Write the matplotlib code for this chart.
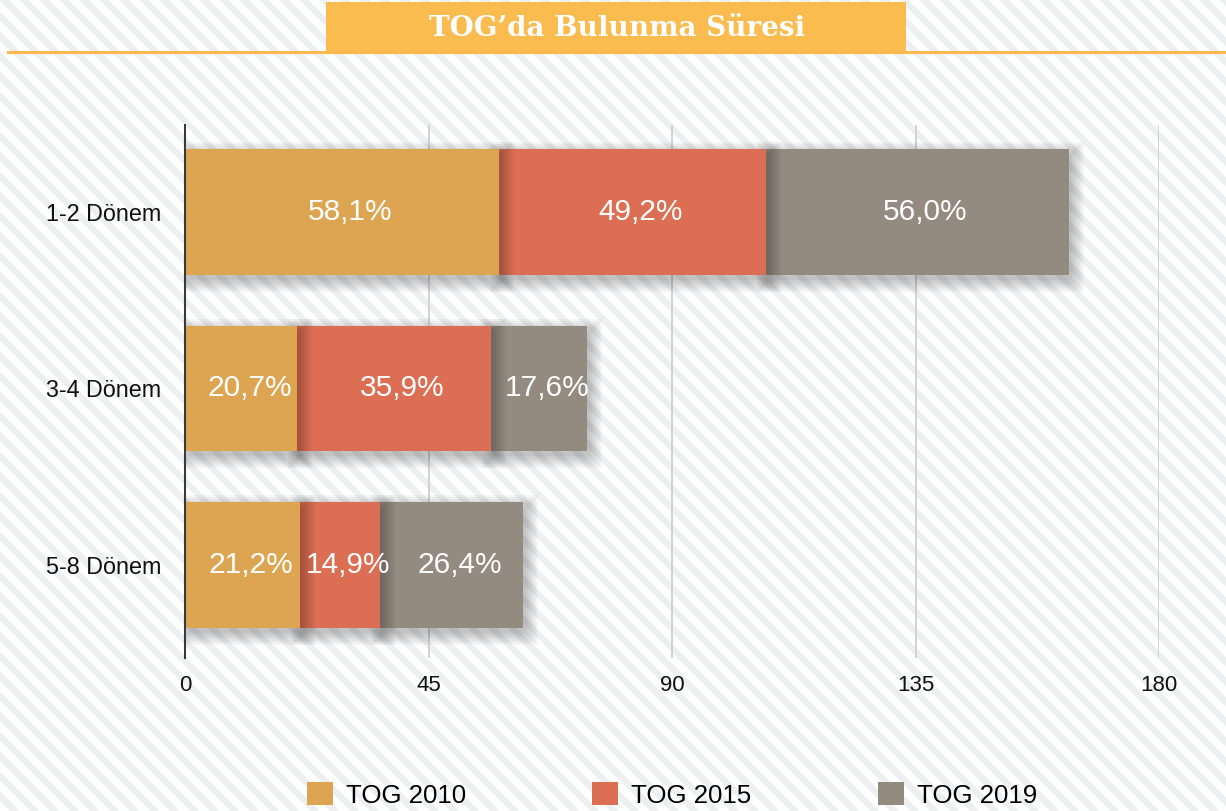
import numpy as np
import matplotlib
matplotlib.use("Agg")
import matplotlib.pyplot as plt
from matplotlib.patches import Rectangle, Patch

# data
periods = ["1-2 Dönem", "3-4 Dönem", "5-8 Dönem"]
series = ["TOG 2010", "TOG 2015", "TOG 2019"]
tog2010 = [58.1, 20.7, 21.2]
tog2015 = [49.2, 35.9, 14.9]
tog2019 = [56.0, 17.6, 26.4]
colors = ["#DDA552", "#DC6E53", "#938B80"]
xticks = [0, 45, 90, 135, 180]

plt.rcParams["font.family"] = ["Liberation Sans", "DejaVu Sans"]

W, H = 1226, 811
fig = plt.figure(figsize=(W / 100, H / 100), dpi=100)

# striped background
yy, xx = np.mgrid[0:H, 0:W]
stripe = ((xx - yy) % 20) < 9
bg = np.ones((H, W, 3))
bg[stripe] = np.array([238, 239, 241]) / 255.0
fig.figimage(bg, xo=0, yo=0, zorder=-10)

ax = fig.add_axes([185 / W, 1 - 658 / H, 974 / W, 533 / H])
ax.set_facecolor("none")
ax.set_xlim(0, 180)
ax.set_ylim(2.527, -0.493)

px = 180 / 974.0
py = 3.02 / 533.0
h = 0.71
ypos = np.arange(len(periods))

data = [tog2010, tog2015, tog2019]
lefts = [np.zeros(3), np.array(tog2010), np.array(tog2010) + np.array(tog2015)]

# draw right to left so each segment casts its shadow on the next one
for i in [2, 1, 0]:
    z = 2 + (2 - i)
    for j, y in enumerate(ypos):
        l = lefts[i][j]
        w = data[i][j]
        for k in range(7):
            r = k * 2.0
            ax.add_patch(Rectangle((l + 3 * px - r * px, y - h / 2 + 5 * py - r * py),
                                   w + 2 * r * px, h + 2 * r * py,
                                   facecolor="black", edgecolor="none",
                                   alpha=0.035, zorder=z - 0.5))
    ax.barh(ypos, data[i], left=lefts[i], height=h, color=colors[i],
            edgecolor="none", zorder=z)
    for j, y in enumerate(ypos):
        ax.annotate(("%.1f" % data[i][j]).replace(".", ",") + "%",
                    (lefts[i][j] + data[i][j] / 2, y), xytext=(6, 0),
                    textcoords="offset points", ha="center", va="center",
                    color="white", fontsize=21.5, zorder=10)

for x in xticks[1:]:
    ax.axvline(x, color="#cfcfcf", lw=1.3, zorder=0.5)

for s in ["top", "right", "bottom"]:
    ax.spines[s].set_visible(False)
ax.spines["left"].set_color("#3a3a3a")
ax.spines["left"].set_linewidth(1.5)
ax.spines["left"].set_zorder(6)

ax.set_xticks(xticks)
ax.set_xticklabels([str(x) for x in xticks])
ax.set_yticks(ypos)
ax.set_yticklabels(periods)
ax.tick_params(axis="x", length=0, pad=12, labelsize=16, colors="#111111")
ax.tick_params(axis="y", length=0, pad=17, labelsize=16.8, colors="#111111")

# title banner
fig.add_artist(plt.Line2D([8 / W, 1], [1 - 52 / H, 1 - 52 / H], color="#FBB84E",
                          lw=2.2, transform=fig.transFigure))
fig.add_artist(Rectangle((326 / W, 1 - 52 / H), 580 / W, 50 / H,
                         facecolor="#FBBC4F", edgecolor="none",
                         transform=fig.transFigure))
fig.text(617 / W, 1 - 29 / H, "TOG’da Bulunma Süresi", ha="center", va="center",
         color="white", fontsize=20, fontweight="heavy", family="DejaVu Serif")

handles = [Patch(facecolor=c, edgecolor="none") for c in colors]
fig.legend(handles, series, loc="center", bbox_to_anchor=(672 / W, 1 - 795 / H),
           ncol=3, frameon=False, fontsize=18.6, handlelength=1.0, handleheight=1.0,
           handletextpad=0.5, columnspacing=4.9)

fig.savefig("out.png", dpi=100)
